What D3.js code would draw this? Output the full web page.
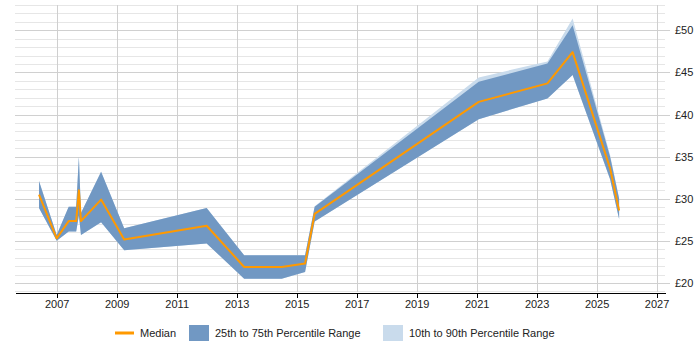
<!DOCTYPE html>
<meta charset="utf-8">
<style>
body { margin: 0; background: #fff; }
text { font: 11px "Liberation Sans", Arial, sans-serif; fill: #222; }
.grid line { shape-rendering: crispEdges; }
.axis path, .axis line { fill: none; stroke: #000; shape-rendering: crispEdges; }
</style>
<svg id="chart" width="700" height="350"></svg>
<script src="https://d3js.org/d3.v7.min.js"></script>
<script>

// values (year as decimal)
var years  = [2006.41, 2007.0, 2007.4, 2007.65, 2007.74, 2007.81, 2008.48, 2009.25, 2012.0, 2013.25, 2014.5, 2015.28, 2015.6, 2021.07, 2023.36, 2024.2, 2025.45, 2025.75];
var median = [30.5, 25.3, 27.35, 27.35, 31.0, 27.35, 29.9, 25.15, 26.8, 21.9, 21.9, 22.3, 28.2, 41.5, 43.7, 47.4, 33.6, 28.6];
var p25    = [28.9, 25.0, 26.1, 26.1, 28.0, 25.7, 27.2, 23.9, 24.7, 20.5, 20.5, 21.3, 27.3, 39.45, 41.9, 44.7, 32.3, 27.6];
var p75    = [32.1, 25.7, 29.05, 29.05, 35.0, 28.3, 33.2, 26.5, 28.9, 23.3, 23.3, 23.3, 29.05, 43.9, 46.05, 50.6, 35.0, 30.0];
var p10    = [28.9, 25.0, 26.1, 26.1, 28.0, 25.7, 27.2, 23.9, 24.7, 20.5, 20.5, 21.3, 27.3, 39.45, 41.9, 44.7, 32.3, 27.6];
var p90    = [32.1, 25.7, 29.05, 29.05, 35.0, 28.3, 33.2, 26.5, 28.9, 23.3, 23.3, 23.3, 29.1, 44.4, 46.3, 51.4, 35.2, 30.1];
var xTicks = [2007, 2009, 2011, 2013, 2015, 2017, 2019, 2021, 2023, 2025, 2027];
var yTicks = [20, 25, 30, 35, 40, 45, 50];

var data = years.map(function (y, i) {
  return { x: y, med: median[i], lo: p25[i], hi: p75[i], lo2: p10[i], hi2: p90[i] };
});

var pLeft = 15, pRight = 665, pTop = 5, pBottom = 292;

var x = d3.scaleLinear().domain([2005.61, 2027.28]).range([pLeft, pRight]);
var y = d3.scaleLinear().domain([18.93, 53]).range([pBottom, pTop]);

var svg = d3.select("#chart");

// horizontal gridlines, minor every £1
var grid = svg.append("g").attr("class", "grid");
grid.selectAll("line.h")
    .data(d3.range(19, 54))
    .enter().append("line")
    .attr("x1", pLeft)
    .attr("x2", function (d) { return d % 5 === 0 ? pRight + 5 : pRight; })
    .attr("y1", function (d) { return Math.round(y(d)) + 0.5; })
    .attr("y2", function (d) { return Math.round(y(d)) + 0.5; })
    .attr("stroke", function (d) { return d % 5 === 0 ? "#d0d0d0" : "#e6e6e6"; });

grid.selectAll("line.v")
    .data(xTicks)
    .enter().append("line")
    .attr("x1", function (d) { return Math.round(x(d)) + 0.5; })
    .attr("x2", function (d) { return Math.round(x(d)) + 0.5; })
    .attr("y1", pTop).attr("y2", pBottom)
    .attr("stroke", "#cfcfcf");

// bands
var band90 = d3.area()
    .x(function (d) { return x(d.x); })
    .y0(function (d) { return y(d.lo2); })
    .y1(function (d) { return y(d.hi2); });

var band75 = d3.area()
    .x(function (d) { return x(d.x); })
    .y0(function (d) { return y(d.lo); })
    .y1(function (d) { return y(d.hi); });

svg.append("path").datum(data).attr("d", band90).attr("fill", "#c9dbec");
svg.append("path").datum(data).attr("d", band75).attr("fill", "#7198c3");

var line = d3.line()
    .x(function (d) { return x(d.x); })
    .y(function (d) { return y(d.med); });

svg.append("path").datum(data)
    .attr("d", line)
    .attr("fill", "none")
    .attr("stroke", "#ff9900")
    .attr("stroke-width", 2)
    .attr("stroke-linejoin", "round");

// axes
var xAxis = d3.axisBottom(x).tickValues(xTicks).tickFormat(d3.format("d")).tickSize(5).tickSizeOuter(0);
svg.append("g")
    .attr("class", "axis")
    .attr("transform", "translate(0," + (pBottom + 0.5) + ")")
    .call(xAxis)
    .call(function (g) { g.selectAll("text").attr("y", 8); });

var yAxis = d3.axisRight(y).tickValues(yTicks).tickFormat(function (d) { return "£" + d; }).tickSize(0).tickPadding(10);
svg.append("g")
    .attr("transform", "translate(" + pRight + ",0)")
    .call(yAxis)
    .call(function (g) { g.select(".domain").remove(); });

// legend
var lg = svg.append("g").attr("transform", "translate(0,333)");
lg.append("line").attr("x1", 115).attr("x2", 134).attr("y1", 0).attr("y2", 0)
    .attr("stroke", "#ff9900").attr("stroke-width", 3);
lg.append("text").attr("x", 140).attr("y", 4).text("Median");
lg.append("rect").attr("x", 189).attr("y", -8).attr("width", 20).attr("height", 16).attr("fill", "#7198c3");
lg.append("text").attr("x", 215).attr("y", 4).text("25th to 75th Percentile Range");
lg.append("rect").attr("x", 383).attr("y", -8).attr("width", 20).attr("height", 16).attr("fill", "#c9dbec");
lg.append("text").attr("x", 409).attr("y", 4).text("10th to 90th Percentile Range");

</script>
